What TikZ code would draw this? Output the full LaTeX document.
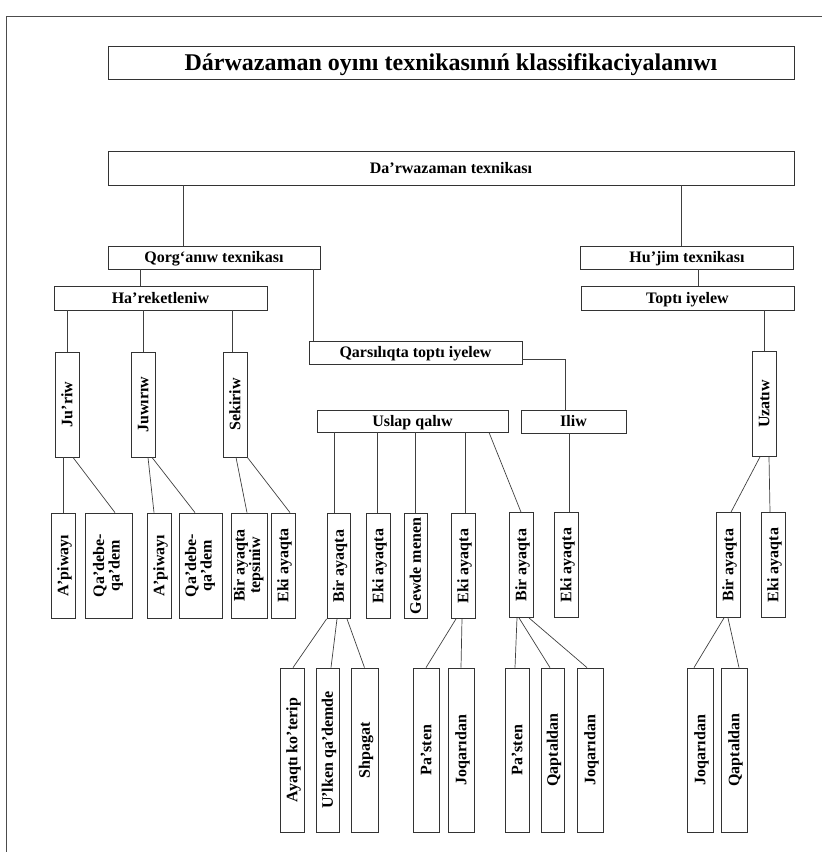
\documentclass[tikz,border=0pt]{standalone}
\usepackage{fontspec}
\setmainfont{Liberation Serif}
\newcommand\uptext[1]{\rotatebox{90}{\raisebox{0pt}[10.5pt][0pt]{#1}}}
\newcommand\uptwo[2]{\rotatebox{90}{\begin{tabular}{@{}c@{}}#1\\#2\end{tabular}}}

\begin{document}
\begin{tikzpicture}[x=1pt, y=-1pt,
    box/.style={draw=black!80, line width=0.8pt, inner sep=0pt, font=\bfseries\fontsize{16}{15}\selectfont},
    hbox/.style={box, minimum height=23pt, text height=10.5pt, text depth=0pt},
    vbox/.style={box, minimum width=#1, minimum height=105pt},
    vbox/.default=24pt,
    lbox/.style={box, minimum width=#1, minimum height=164pt},
    lbox/.default=24pt,
    conn/.style={draw=black!75, line width=0.7pt}]
    \useasboundingbox (0,0) rectangle (822,852);
    \draw[black!70, line width=1pt] (6,852) -- (6,16) -- (822,16);

    \node[box, minimum width=686pt, minimum height=33pt, text height=16pt, text depth=0pt, font=\bfseries\fontsize{24}{26}\selectfont] (title) at (451,62.5) {Dárwazaman oyını texnikasınıń klassifikaciyalanıwı};

    \node[hbox, minimum width=686pt, minimum height=34pt] (dt) at (451,168) {Da’rwazaman texnikası};
    \node[hbox, minimum width=212pt] (qt) at (214,257.5) {Qorg‘anıw texnikası};
    \node[hbox, minimum width=213pt] (ht) at (687,257.5) {Hu’jim texnikası};
    \node[hbox, minimum width=213pt, minimum height=24pt] (hr) at (160.5,298) {Ha’reketleniw};
    \node[hbox, minimum width=213pt, minimum height=24pt] (ti) at (687.5,298) {Toptı iyelew};
    \node[hbox, minimum width=213pt] (qa) at (415.5,352.5) {Qarsılıqta toptı iyelew};
    \node[hbox, minimum width=191pt, minimum height=22pt] (uq) at (412.5,421) {Uslap qalıw};
    \node[hbox, minimum width=105pt] (il) at (573.5,421.5) {Iliw};

    \node[vbox] (ju) at (67,404.5) {\uptext{Ju’riw}};
    \node[vbox] (jw) at (143,404.5) {\uptext{Juwırıw}};
    \node[vbox] (sk) at (235,404.5) {\uptext{Sekiriw}};
    \node[vbox] (uz) at (764,404) {\uptext{Uzatıw}};

    \node[vbox] (a1) at (63,565.5) {\uptext{A’piwayı}};
    \node[vbox=47pt] (q1) at (108.5,565.5) {\uptwo{Qa’debe-}{qa’dem}};
    \node[vbox] (a2) at (159,565.5) {\uptext{A’piwayı}};
    \node[vbox=43pt] (q2) at (200.5,565.5) {\uptwo{Qa’debe-}{qa’dem}};
    \node[vbox=36pt] (bt) at (249,565.5) {\uptwo{Bir ayaqta}{tepsiniw}};
    \node[vbox] (e1) at (283,565.5) {\uptext{Eki ayaqta}};
    \node[vbox=23pt] (b1) at (338.5,566) {\uptext{Bir ayaqta}};
    \node[vbox] (e2) at (378,566) {\uptext{Eki ayaqta}};
    \node[vbox=23pt] (gm) at (415.5,566) {\uptext{Gewde menen}};
    \node[vbox] (e3) at (463,566) {\uptext{Eki ayaqta}};
    \node[vbox] (b2) at (521,565) {\uptext{Bir ayaqta}};
    \node[vbox] (e4) at (566,565) {\uptext{Eki ayaqta}};
    \node[vbox] (b3) at (728,565) {\uptext{Bir ayaqta}};
    \node[vbox] (e5) at (773,565) {\uptext{Eki ayaqta}};

    \node[lbox] (ak) at (292,750) {\uptext{Ayaqtı ko’terip}};
    \node[lbox=23pt] (uk) at (327.5,750) {\uptext{U’lken qa’demde}};
    \node[lbox=27pt] (sh) at (364.5,750) {\uptext{Shpagat}};
    \node[lbox=26pt] (p1) at (426,750) {\uptext{Pa’sten}};
    \node[lbox=26pt] (j1) at (461,750) {\uptext{Joqarıdan}};
    \node[lbox] (p2) at (517,750) {\uptext{Pa’sten}};
    \node[lbox=23pt] (qp1) at (552.5,750) {\uptext{Qaptaldan}};
    \node[lbox=26pt] (j2) at (590,750) {\uptext{Joqarıdan}};
    \node[lbox=26pt] (j3) at (700,750) {\uptext{Joqarıdan}};
    \node[lbox=26pt] (qp2) at (734,750) {\uptext{Qaptaldan}};

    \path[conn] ([xshift=-31pt]qt.north) edge ([xshift=-31pt]qt.north |- dt.south);
    \path[conn] ([xshift=-6pt]ht.north) edge ([xshift=-6pt]ht.north |- dt.south);
    \path[conn] ([xshift=-20.5pt]hr.north) edge ([xshift=-20.5pt]hr.north |- qt.south);
    \path[conn] ([xshift=-102.5pt]qa.north) edge ([xshift=-102.5pt]qa.north |- qt.south);
    \path[conn] ([xshift=10.5pt]ti.north) edge ([xshift=10.5pt]ti.north |- ht.south);
    \draw[conn] ([yshift=-6.5pt]qa.east) -| ([xshift=-8.5pt]il.north);

    \path[conn] (ju.north) edge (ju.north |- hr.south);
    \path[conn] (jw.north) edge (jw.north |- hr.south);
    \path[conn] ([xshift=-3pt]sk.north) edge ([xshift=-3pt]sk.north |- hr.south);
    \path[conn] (uz.north) edge (uz.north |- ti.south);

    \path[conn] ([xshift=-4pt]ju.south) edge (a1.north);
    \path[conn] ([xshift=6pt]ju.south) edge ([xshift=6.5pt]q1.north);
    \path[conn] ([xshift=5pt]jw.south) edge ([xshift=-5pt]a2.north);
    \path[conn] ([xshift=9pt]jw.south) edge ([xshift=-5.5pt]q2.north);
    \path[conn] ([xshift=1pt]sk.south) edge ([xshift=-2pt]bt.north);
    \path[conn] (sk.south east) edge ([xshift=7pt]e1.north);

    \path[conn] ([xshift=-4.5pt]b1.north) edge ([xshift=-4.5pt]b1.north |- uq.south);
    \path[conn] ([xshift=-1pt]e2.north) edge ([xshift=-1pt]e2.north |- uq.south);
    \path[conn] (gm.north) edge (gm.north |- uq.south);
    \path[conn] ([xshift=2pt]e3.north) edge ([xshift=2pt]e3.north |- uq.south);
    \path[conn] ([xshift=76.5pt]uq.south) edge (b2.north);
    \path[conn] ([xshift=3pt]e4.north) edge ([xshift=3pt]e4.north |- il.south);
    \path[conn] ([xshift=-4pt]uz.south) edge ([xshift=3pt]b3.north);
    \path[conn] ([xshift=5pt]uz.south) edge ([xshift=-3pt]e5.north);

    \path[conn] (b1.south west) edge ([xshift=1pt]ak.north);
    \path[conn] ([xshift=-1.5pt]b1.south) edge ([xshift=3.5pt]uk.north);
    \path[conn] ([xshift=8.5pt]b1.south) edge (sh.north);
    \path[conn] ([xshift=-7pt]e3.south) edge (p1.north);
    \path[conn] ([xshift=-1pt]e3.south) edge (j1.north);
    \path[conn] ([xshift=-4pt]b2.south) edge ([xshift=-2pt]p2.north);
    \path[conn] ([xshift=-2pt]b2.south) edge ([xshift=-2.5pt]qp1.north);
    \path[conn] ([xshift=8pt]b2.south) edge ([xshift=-3pt]j2.north);
    \path[conn] ([xshift=-4pt]b3.south) edge ([xshift=-6pt]j3.north);
    \path[conn] (b3.south) edge ([xshift=5pt]qp2.north);
\end{tikzpicture}
\end{document}
